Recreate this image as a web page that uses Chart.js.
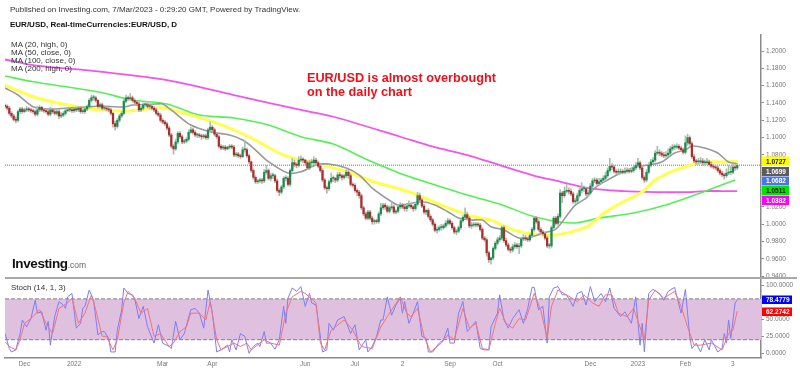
<!DOCTYPE html>
<html>
<head>
<meta charset="utf-8">
<title>EUR/USD daily</title>
<script src="https://cdn.jsdelivr.net/npm/chart.js@4"></script>
<style>
  html, body { margin: 0; background: #fff; }
  #wrap { position: relative; width: 800px; height: 372px; overflow: hidden; font-family: "Liberation Sans", Arial, sans-serif; }
  #wrap div { position: absolute; white-space: nowrap; line-height: 1; }
  .small { font-size: 8px; color: #333; }
  .note { font-size: 12.7px; font-weight: bold; color: #f0101a; }
</style>
</head>
<body>
<div id="wrap">
  <canvas id="chart" width="800" height="372"></canvas>
  <div class="small" style="left:10px;top:6px">Published on Investing.com, 7/Mar/2023 - 0:29:20 GMT, Powered by TradingView.</div>
  <div class="small" style="left:10px;top:20.5px;font-weight:bold;color:#111">EUR/USD, Real-timeCurrencies:EUR/USD, D</div>
  <div class="small" style="left:11px;top:40.5px">MA (20, high, 0)</div>
  <div class="small" style="left:11px;top:48.5px">MA (50, close, 0)</div>
  <div class="small" style="left:11px;top:57px">MA (100, close, 0)</div>
  <div class="small" style="left:11px;top:65px">MA (200, high, 0)</div>
  <div class="small" style="left:11px;top:283.5px">Stoch (14, 1, 3)</div>
  <div class="note" style="left:307px;top:71.5px">EUR/USD is almost overbought</div>
  <div class="note" style="left:307px;top:86px">on the daily chart</div>
  <div style="left:12px;top:257px;font-size:13.5px;font-weight:bold;color:#111;letter-spacing:-0.4px">Investing<span style="font-size:8.5px;font-weight:normal;color:#666;letter-spacing:0">.com</span></div>
</div>
<script>
// candles, one per trading day
const opens = [
1.137,1.136,1.134,1.128,1.125,1.121,1.120,1.130,1.133,1.130,1.132,1.133,1.132,1.131,1.130,1.127,1.132,1.135,1.132,1.131,
1.130,1.127,1.132,1.130,1.128,1.130,1.125,1.126,1.128,1.131,1.132,1.132,1.131,1.133,1.132,1.134,1.130,1.130,1.133,1.136,
1.143,1.146,1.146,1.143,1.136,1.138,1.134,1.134,1.133,1.132,1.128,1.116,1.113,1.120,1.125,1.128,1.142,1.146,1.145,1.146,
1.143,1.141,1.139,1.132,1.134,1.138,1.138,1.136,1.136,1.134,1.132,1.128,1.126,1.120,1.118,1.116,1.111,1.103,1.090,1.087,
1.095,1.105,1.101,1.095,1.096,1.098,
1.106,1.109,1.106,1.103,1.103,1.102,1.101,1.102,1.100,1.109,1.112,1.109,1.104,1.101,1.090,1.088,1.089,1.087,1.089,1.090,
1.089,1.080,1.081,1.079,1.078,1.086,1.086,1.079,1.072,1.062,1.054,1.049,1.050,1.051,1.050,1.060,1.062,1.053,1.056,1.056,
1.050,1.039,1.037,1.043,1.053,1.053,1.046,1.062,1.071,1.069,1.068,1.074,1.075,1.074,1.071,1.065,1.071,1.071,1.074,1.071,
1.067,1.062,1.051,1.042,1.041,1.049,1.053,1.053,1.051,1.057,1.056,1.054,1.056,1.060,1.056,1.046,1.045,1.039,1.037,1.033,
1.019,1.012,1.007,1.014,1.007,1.003,
1.004,1.003,1.012,1.019,1.022,1.020,1.015,1.019,1.020,1.014,1.015,1.020,1.022,1.020,1.018,1.021,1.022,1.020,1.018,1.023,
1.033,1.028,1.021,1.014,1.016,1.009,1.005,1.000,0.993,0.994,0.996,0.996,0.998,1.001,1.004,1.001,0.996,0.991,0.992,0.996,
1.004,1.008,1.011,1.007,0.998,0.999,0.999,1.000,0.999,0.994,0.984,0.982,0.967,0.959,0.961,0.972,0.978,0.982,0.984,0.996,
0.981,0.976,0.971,0.970,0.974,0.976,0.974,0.975,0.983,0.984,0.983,0.982,0.987,0.994,1.007,1.003,0.994,0.991,0.989,0.984,
0.975,0.975,0.996,1.007,1.001,1.009,
1.036,1.033,1.038,1.039,1.038,1.035,1.026,1.027,1.033,1.039,1.041,1.041,1.035,1.036,1.044,1.050,1.051,1.047,1.049,1.051,
1.053,1.056,1.062,1.067,1.066,1.061,1.060,1.060,1.061,1.060,1.061,1.062,1.061,1.062,1.065,1.068,1.071,1.065,1.054,1.051,
1.060,1.068,1.072,1.074,1.082,1.083,1.082,1.080,1.079,1.080,1.082,1.087,1.089,1.089,1.090,1.088,1.086,1.083,1.094,1.100,
1.093,1.078,1.073,1.072,1.072,1.073,1.071,1.071,1.072,1.069,1.067,1.066,1.065,1.062,1.059,1.057,1.056,1.059,1.060,1.060,
1.066,1.065];
const closes = [
1.136,1.134,1.128,1.125,1.121,1.120,1.130,1.133,1.130,1.132,1.133,1.132,1.131,1.130,1.127,1.132,1.135,1.132,1.131,1.130,
1.127,1.132,1.130,1.128,1.130,1.125,1.126,1.128,1.131,1.132,1.132,1.131,1.133,1.132,1.134,1.130,1.130,1.133,1.136,1.143,
1.146,1.146,1.143,1.136,1.138,1.134,1.134,1.133,1.132,1.128,1.116,1.113,1.120,1.125,1.128,1.142,1.146,1.145,1.146,1.143,
1.141,1.139,1.132,1.134,1.138,1.138,1.136,1.136,1.134,1.132,1.128,1.126,1.120,1.118,1.116,1.111,1.103,1.090,1.087,1.095,
1.105,1.101,1.095,1.096,1.098,1.106,
1.109,1.106,1.103,1.103,1.102,1.101,1.102,1.100,1.109,1.112,1.109,1.104,1.101,1.090,1.088,1.089,1.087,1.089,1.090,1.089,
1.080,1.081,1.079,1.078,1.086,1.086,1.079,1.072,1.062,1.054,1.049,1.050,1.051,1.050,1.060,1.062,1.053,1.056,1.056,1.050,
1.039,1.037,1.043,1.053,1.053,1.046,1.062,1.071,1.069,1.068,1.074,1.075,1.074,1.071,1.065,1.071,1.071,1.074,1.071,1.067,
1.062,1.051,1.042,1.041,1.049,1.053,1.053,1.051,1.057,1.056,1.054,1.056,1.060,1.056,1.046,1.045,1.039,1.037,1.033,1.019,
1.012,1.007,1.014,1.007,1.003,1.004,
1.003,1.012,1.019,1.022,1.020,1.015,1.019,1.020,1.014,1.015,1.020,1.022,1.020,1.018,1.021,1.022,1.020,1.018,1.023,1.033,
1.028,1.021,1.014,1.016,1.009,1.005,1.000,0.993,0.994,0.996,0.996,0.998,1.001,1.004,1.001,0.996,0.991,0.992,0.996,1.004,
1.008,1.011,1.007,0.998,0.999,0.999,1.000,0.999,0.994,0.984,0.982,0.967,0.959,0.961,0.972,0.978,0.982,0.984,0.996,0.981,
0.976,0.971,0.970,0.974,0.976,0.974,0.975,0.983,0.984,0.983,0.982,0.987,0.994,1.007,1.003,0.994,0.991,0.989,0.984,0.975,
0.975,0.996,1.007,1.001,1.009,1.036,
1.033,1.038,1.039,1.038,1.035,1.026,1.027,1.033,1.039,1.041,1.041,1.035,1.036,1.044,1.050,1.051,1.047,1.049,1.051,1.053,
1.056,1.062,1.067,1.066,1.061,1.060,1.060,1.061,1.060,1.061,1.062,1.061,1.062,1.065,1.068,1.071,1.065,1.054,1.051,1.060,
1.068,1.072,1.074,1.082,1.083,1.082,1.080,1.079,1.080,1.082,1.087,1.089,1.089,1.090,1.088,1.086,1.083,1.094,1.100,1.093,
1.078,1.073,1.072,1.072,1.073,1.071,1.071,1.072,1.069,1.067,1.066,1.065,1.062,1.059,1.057,1.056,1.059,1.060,1.060,1.066,
1.065,1.068];
const highs = [
1.139,1.138,1.136,1.130,1.127,1.124,1.132,1.135,1.135,1.134,1.136,1.135,1.134,1.133,1.132,1.136,1.137,1.136,1.134,1.133,
1.132,1.135,1.134,1.132,1.132,1.132,1.129,1.130,1.133,1.134,1.135,1.134,1.135,1.135,1.136,1.136,1.133,1.135,1.138,1.145,
1.149,1.149,1.148,1.144,1.140,1.140,1.137,1.136,1.135,1.134,1.129,1.119,1.122,1.127,1.130,1.144,1.149,1.148,1.151,1.148,
1.145,1.143,1.141,1.136,1.140,1.140,1.140,1.138,1.138,1.136,1.134,1.130,1.128,1.122,1.120,1.118,1.113,1.105,1.092,1.098,
1.107,1.107,1.103,1.098,1.100,1.109,
1.112,1.111,1.108,1.105,1.105,1.104,1.104,1.104,1.111,1.118,1.114,1.111,1.106,1.103,1.092,1.091,1.091,1.090,1.092,1.092,
1.091,1.083,1.083,1.081,1.089,1.097,1.088,1.081,1.073,1.064,1.056,1.052,1.053,1.053,1.063,1.068,1.064,1.059,1.059,1.058,
1.052,1.041,1.045,1.055,1.056,1.055,1.064,1.076,1.074,1.071,1.078,1.079,1.077,1.075,1.073,1.074,1.075,1.078,1.076,1.073,
1.069,1.064,1.053,1.044,1.051,1.059,1.056,1.054,1.060,1.060,1.058,1.058,1.063,1.062,1.058,1.048,1.047,1.041,1.039,1.035,
1.021,1.014,1.016,1.016,1.009,1.006,
1.006,1.014,1.024,1.024,1.024,1.022,1.021,1.026,1.022,1.017,1.023,1.025,1.024,1.022,1.023,1.027,1.024,1.022,1.025,1.037,
1.036,1.030,1.023,1.017,1.018,1.011,1.007,1.002,0.997,0.998,1.000,1.000,1.004,1.007,1.006,1.003,0.998,0.994,0.998,1.006,
1.010,1.019,1.014,1.009,1.002,1.002,1.002,1.002,1.001,0.996,0.986,0.984,0.969,0.962,0.974,0.980,0.985,0.987,0.998,0.998,
0.984,0.978,0.973,0.977,0.979,0.978,0.978,0.985,0.988,0.987,0.985,0.989,0.996,1.009,1.009,1.005,0.996,0.993,0.991,0.986,
0.978,0.998,1.009,1.009,1.012,1.040,
1.038,1.043,1.046,1.042,1.041,1.037,1.030,1.036,1.042,1.048,1.044,1.043,1.039,1.047,1.053,1.054,1.053,1.053,1.053,1.056,
1.060,1.065,1.076,1.070,1.068,1.063,1.064,1.064,1.063,1.065,1.065,1.064,1.065,1.067,1.071,1.076,1.073,1.067,1.056,1.063,
1.071,1.075,1.077,1.085,1.090,1.086,1.084,1.083,1.084,1.087,1.090,1.092,1.092,1.093,1.092,1.090,1.088,1.102,1.104,1.102,
1.095,1.081,1.075,1.076,1.077,1.076,1.074,1.076,1.074,1.072,1.069,1.068,1.067,1.064,1.061,1.059,1.064,1.068,1.067,1.069,
1.069,1.070];
const lows = [
1.134,1.132,1.126,1.123,1.119,1.117,1.118,1.128,1.128,1.129,1.130,1.130,1.129,1.128,1.125,1.125,1.130,1.130,1.129,1.128,
1.125,1.125,1.128,1.126,1.126,1.122,1.123,1.124,1.126,1.130,1.130,1.129,1.129,1.130,1.130,1.128,1.128,1.128,1.131,1.134,
1.141,1.143,1.141,1.134,1.134,1.132,1.132,1.131,1.130,1.126,1.112,1.109,1.111,1.118,1.123,1.126,1.140,1.143,1.143,1.141,
1.139,1.137,1.130,1.130,1.132,1.136,1.134,1.133,1.132,1.130,1.126,1.124,1.118,1.116,1.114,1.109,1.101,1.088,1.081,1.085,
1.093,1.099,1.093,1.093,1.094,1.096,
1.105,1.104,1.101,1.100,1.100,1.098,1.099,1.098,1.098,1.107,1.107,1.102,1.099,1.088,1.086,1.086,1.085,1.086,1.087,1.087,
1.078,1.078,1.077,1.076,1.077,1.083,1.077,1.070,1.060,1.052,1.047,1.047,1.048,1.047,1.048,1.058,1.051,1.050,1.053,1.048,
1.037,1.033,1.035,1.041,1.050,1.044,1.044,1.060,1.066,1.065,1.066,1.072,1.071,1.068,1.063,1.063,1.068,1.069,1.068,1.065,
1.060,1.049,1.040,1.036,1.039,1.047,1.049,1.048,1.049,1.053,1.051,1.052,1.054,1.053,1.044,1.043,1.037,1.033,1.030,1.017,
1.010,1.005,1.005,1.005,1.000,1.000,
1.001,1.001,1.010,1.017,1.017,1.013,1.013,1.017,1.012,1.012,1.013,1.018,1.018,1.015,1.015,1.019,1.018,1.015,1.016,1.021,
1.026,1.019,1.012,1.011,1.007,1.003,0.998,0.991,0.990,0.992,0.993,0.994,0.996,0.999,0.999,0.994,0.989,0.988,0.990,0.994,
1.002,1.006,1.005,0.996,0.995,0.997,0.997,0.997,0.992,0.982,0.980,0.963,0.956,0.954,0.959,0.970,0.976,0.980,0.982,0.979,
0.974,0.969,0.967,0.968,0.972,0.972,0.966,0.973,0.981,0.981,0.980,0.980,0.985,0.992,1.001,0.992,0.989,0.987,0.982,0.973,
0.972,0.973,0.994,0.999,0.999,1.007,
1.025,1.031,1.036,1.035,1.033,1.024,1.024,1.025,1.031,1.036,1.038,1.033,1.033,1.034,1.042,1.048,1.045,1.045,1.047,1.049,
1.051,1.054,1.060,1.063,1.059,1.058,1.057,1.058,1.058,1.058,1.059,1.059,1.059,1.060,1.063,1.066,1.063,1.052,1.048,1.049,
1.058,1.066,1.070,1.072,1.080,1.079,1.078,1.077,1.077,1.078,1.080,1.085,1.086,1.087,1.086,1.084,1.081,1.081,1.091,1.091,
1.076,1.071,1.069,1.069,1.070,1.068,1.068,1.069,1.067,1.065,1.064,1.063,1.060,1.057,1.055,1.052,1.054,1.057,1.057,1.058,
1.062,1.063];

// moving averages: bar number and value at readable spots along each curve
const ma20Bars = [0,6,13,21,29,38,44,55,59,70,73,78,86,95,104,110,115,121,131,137,144,150,158,164,170,179,182,193,199,205,210,216,221,225,231,238,244,249,255,261,264,269,273,279,286,292,298,304,310,315,318,324,330,335,339];
const ma20 = [1.1573,1.1492,1.1357,1.1330,1.1342,1.1353,1.1365,1.1353,1.1376,1.1388,1.1388,1.1299,1.1145,1.1068,1.1030,1.0972,1.0880,1.0741,1.0591,1.0606,1.0683,1.0695,1.0649,1.0568,1.0418,1.0259,1.0221,1.0259,1.0221,1.0144,1.0071,1.0048,1.0048,0.9971,0.9933,0.9840,0.9855,0.9898,0.9944,1.0129,1.0221,1.0302,1.0418,1.0510,1.0602,1.0660,1.0683,1.0718,1.0822,1.0857,1.0903,1.0880,1.0822,1.0718,1.0699];
const ma50Bars = [0,13,29,44,59,72,83,98,113,129,144,160,171,187,202,210,217,225,233,241,249,255,269,278,286,295,301,307,316,323,332,339];
const ma50 = [1.1607,1.1472,1.1376,1.1319,1.1310,1.1345,1.1280,1.1168,1.1010,1.0799,1.0706,1.0591,1.0487,1.0375,1.0221,1.0144,1.0086,1.0048,0.9956,0.9898,0.9875,0.9875,0.9967,1.0140,1.0256,1.0371,1.0510,1.0591,1.0672,1.0718,1.0718,1.0727];
const ma100Bars = [0,13,29,44,59,75,90,106,122,137,152,168,183,192,214,229,244,257,265,275,291,306,322,338];
const ma100 = [1.1711,1.1645,1.1584,1.1523,1.1434,1.1388,1.1261,1.1226,1.1145,1.1010,1.0926,1.0741,1.0587,1.0510,1.0337,1.0233,1.0094,1.0025,1.0017,1.0071,1.0129,1.0221,1.0360,1.0511];
const ma200Bars = [0,13,44,75,106,137,152,183,198,214,229,244,255,270,286,301,316,324,332,339];
const ma200 = [1.1902,1.1838,1.1761,1.1665,1.1492,1.1319,1.1241,1.1010,1.0895,1.0799,1.0683,1.0568,1.0502,1.0418,1.0383,1.0371,1.0371,1.0383,1.0383,1.0382];
const lastPrice = 1.0682;

// stochastic, turning points
const kBars = [0,2,3,5,7,8,10,12,14,15,17,19,20,21,23,25,27,28,29,31,33,35,36,37,39,41,43,45,46,48,49,51,52,54,55,57,59,60,62,64,66,69,71,73,76,77,79,81,83,86,88,90,92,94,96,98,100,103,104,105,107,109,111,113,115,117,118,120,121,123,125,127,129,130,131,133,135,137,139,141,142,144,147,149,150,152,154,157,160,162,164,167,168,170,172,174,175,177,179,181,183,184,185,187,189,191,193,195,196,198,201,203,205,206,208,210,212,214,218,220,222,224,225,228,229,231,233,235,238,240,242,244,245,247,249,251,252,254,256,258,260,263,265,267,269,271,273,276,278,280,282,285,287,290,292,294,295,296,298,300,303,305,307,310,313,315,317,318,320,322,324,326,327,330,332,333,334,335,336,338,339];
const kVals = [29,7,2,5,29,49,39,51,78,59,61,34,47,12,54,76,71,66,83,88,37,44,66,69,93,78,27,32,32,22,2,2,34,64,96,88,86,81,51,69,39,15,42,15,10,7,47,20,29,64,66,59,37,93,59,2,5,12,2,20,5,29,25,0,10,15,10,32,15,15,6,20,69,44,81,96,91,98,69,88,74,71,2,5,44,34,49,54,29,42,5,20,2,10,25,49,49,83,56,71,81,59,76,44,59,76,25,22,2,2,15,20,37,15,15,59,76,32,47,7,5,5,39,59,86,49,37,51,64,44,66,97,97,64,69,15,83,96,98,86,86,69,88,91,71,98,76,88,76,96,66,54,61,44,83,12,44,2,88,94,88,78,91,97,59,94,25,7,15,2,20,5,20,2,7,29,15,49,22,74,78.48];
const dBars = [0,2,5,7,9,12,16,19,22,25,29,31,34,37,40,42,45,47,50,52,55,57,60,63,66,69,72,76,78,81,84,86,90,93,95,98,100,106,109,112,114,120,123,127,130,133,137,139,144,146,148,151,157,161,165,170,174,177,183,186,188,191,194,197,202,205,208,212,215,218,221,224,227,229,232,235,238,241,245,248,251,253,256,260,265,268,272,275,278,281,284,288,291,296,298,301,305,310,313,316,319,322,327,332,335,337,339];
const dVals = [17,10,5,20,44,51,64,44,29,66,74,81,44,59,86,64,25,25,5,20,74,91,81,59,66,25,29,10,15,32,39,59,59,49,76,20,5,15,10,15,5,20,15,12,59,83,91,88,74,15,5,34,49,34,10,7,39,54,83,59,54,66,25,2,15,27,20,66,37,44,7,5,44,66,44,37,51,49,88,64,22,69,93,86,76,86,74,69,86,86,59,54,66,20,78,93,81,91,69,39,12,12,15,5,29,34,62.27];

// axis ticks
const dateTickBars = [9,32,73,96,139,162,184,206,228,271,293,315,337];
const dateTickLabels = ["Dec","2022","Mar","Apr","Jun","Jul","2","Sep","Oct","Dec","2023","Feb","3"];
const priceTicks = [0.94,0.96,0.98,1.00,1.02,1.04,1.06,1.08,1.10,1.12,1.14,1.16,1.18,1.20];
const stochTicks = [0,25,50,75,100];

// last value tags on the right axis
const priceTagLabels = ["1.0727","1.0699","1.0682","1.0511","1.0382"];
const stochTagLabels = ["78.4779","62.2742"];

const lastBarSpace = 350; // right edge of the plot, in bars

function points(bars, vals) {
  return bars.map((b, i) => ({ x: b, y: vals[i] }));
}
function candlePoints(a, b) {
  return a.map((v, i) => ({ x: i, y: [v, b[i]] }));
}
function fixedTicks(list) {
  return (scale) => { scale.ticks = list.map((v) => ({ value: v })); };
}

const upColor = "#1d8a50", downColor = "#a5302c";
const wickColors = closes.map((c, i) => (c >= opens[i] ? "#a4c2b0" : "#c2aaa8"));
const bodyColors = closes.map((c, i) => (c >= opens[i] ? upColor : downColor));

function maLine(bars, vals, color, width) {
  return { type: "line", yAxisID: "price", data: points(bars, vals), borderColor: color, borderWidth: width, pointRadius: 0, tension: 0.3, order: 5 };
}
function stochLine(bars, vals, color) {
  return { type: "line", yAxisID: "stoch", data: points(bars, vals), borderColor: color, borderWidth: 1, pointRadius: 0, order: 2 };
}
function bandLine(level, fill) {
  return { type: "line", yAxisID: "stoch", data: points([0, lastBarSpace], [level, level]), borderColor: "#8a7a8a", borderWidth: 1, borderDash: [4, 2], pointRadius: 0, fill: fill, backgroundColor: "#dfc0df", order: 9 };
}

// draws the value tags and the line between the two panes
const paneExtras = {
  id: "paneExtras",
  afterDraw(chart) {
    const ctx = chart.ctx;
    ctx.save();
    ctx.fillStyle = "#fff";
    ctx.fillRect(762, 279, 38, 3);
    ctx.fillStyle = "#a8a8a8";
    ctx.fillRect(5, chart.scales.stoch.top - 1, 792, 2);
    const tag = (text, top, h, right, bg, fg) => {
      ctx.fillStyle = bg;
      ctx.fillRect(762, top, right - 762, h);
      ctx.fillStyle = fg;
      ctx.font = "bold 6.5px 'Liberation Sans'";
      ctx.textBaseline = "middle";
      ctx.fillText(text, 766, top + h / 2 + 0.5);
    };
    tag(priceTagLabels[0], 156.5, 9.5, 789, "#ffff00", "#111");
    tag(priceTagLabels[1], 167, 9, 789, "#5c5c5c", "#fff");
    tag(priceTagLabels[2], 176.5, 9, 789, "#4a74e8", "#fff");
    tag(priceTagLabels[3], 186, 9.5, 789, "#00e600", "#111");
    tag(priceTagLabels[4], 196, 9, 789, "#ff00ff", "#fff");
    tag(stochTagLabels[0], 295.5, 8.5, 792, "#0000ff", "#fff");
    tag(stochTagLabels[1], 307.5, 8.5, 792, "#ff0000", "#fff");
    ctx.restore();
  },
};

new Chart(document.getElementById("chart"), {
  type: "bar",
  data: {
    datasets: [
      { type: "bar", yAxisID: "price", data: candlePoints(opens, closes), backgroundColor: bodyColors, barThickness: 1.6, minBarLength: 1, grouped: false, order: 3 },
      { type: "bar", yAxisID: "price", data: candlePoints(lows, highs), backgroundColor: wickColors, barThickness: 1, grouped: false, order: 4 },
      maLine(ma20Bars, ma20, "#999999", 1.6),
      maLine(ma50Bars, ma50, "#ffff4d", 3),
      maLine(ma100Bars, ma100, "#55f055", 1.6),
      maLine(ma200Bars, ma200, "#f055f0", 1.8),
      { type: "line", yAxisID: "price", data: points([0, lastBarSpace], [lastPrice, lastPrice]), borderColor: "#4a74e8", borderWidth: 1, borderDash: [1, 1], pointRadius: 0, order: 6 },
      bandLine(80, false),
      bandLine(20, "-1"),
      stochLine(dBars, dVals, "#f2737b"),
      stochLine(kBars, kVals, "#7f7df2"),
    ],
  },
  options: {
    responsive: false,
    animation: false,
    layout: { padding: { left: 5, top: 35, right: 0, bottom: 0 } },
    plugins: { legend: { display: false }, tooltip: { enabled: false } },
    scales: {
      x: {
        type: "linear",
        offset: false,
        min: 0,
        max: lastBarSpace,
        grid: { display: false, drawTicks: false },
        border: { color: "#8a8a8a", width: 1.5 },
        afterBuildTicks: fixedTicks(dateTickBars),
        afterFit: (scale) => { scale.height = 14.7; },
        ticks: {
          autoSkip: false,
          maxRotation: 0,
          padding: 3,
          color: "#777",
          font: { family: "Liberation Sans", size: 6.5 },
          callback: (v) => dateTickLabels[dateTickBars.indexOf(v)],
        },
      },
      price: {
        position: "right",
        stack: "panes",
        stackWeight: 243,
        weight: 1,
        min: 0.9379,
        max: 1.2185,
        grid: { drawOnChartArea: false, tickLength: 3, color: "#8a8a8a" },
        border: { color: "#8a8a8a", width: 1.5 },
        afterBuildTicks: fixedTicks(priceTicks),
        afterFit: (scale) => { scale.width = 39; },
        ticks: { autoSkip: false, padding: 2, color: "#777", font: { family: "Liberation Sans", size: 6.5 }, callback: (v) => v.toFixed(4) },
      },
      stoch: {
        position: "right",
        stack: "panes",
        stackWeight: 79.3,
        weight: 2,
        min: -5.88,
        max: 110.7,
        grid: { drawOnChartArea: false, tickLength: 3, color: "#8a8a8a" },
        border: { color: "#8a8a8a", width: 1.5 },
        afterBuildTicks: fixedTicks(stochTicks),
        afterFit: (scale) => { scale.width = 39; },
        ticks: { autoSkip: false, padding: 2, color: "#777", font: { family: "Liberation Sans", size: 6.5 }, callback: (v) => v.toFixed(4) },
      },
    },
  },
  plugins: [paneExtras],
});
</script>
</body>
</html>
